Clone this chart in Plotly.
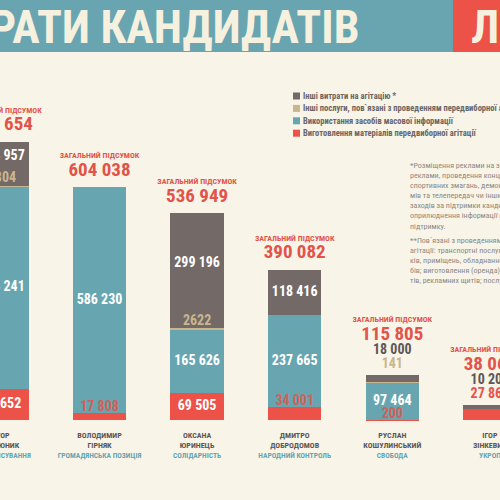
import plotly.graph_objects as go

# candidates (left to right), the picture is cropped on both sides
first_names = ["ІГОР", "ВОЛОДИМИР", "ОКСАНА", "ДМИТРО", "РУСЛАН", "ІГОР"]
last_names = ["ВАСЮНИК", "ГІРНЯК", "ЮРИНЕЦЬ", "ДОБРОДОМОВ", "КОШУЛИНСЬКИЙ", "ЗІНКЕВИЧ"]
parties = ["САМОВИСУВАННЯ", "ГРОМАДЯНСЬКА ПОЗИЦІЯ", "СОЛІДАРНІСТЬ",
           "НАРОДНИЙ КОНТРОЛЬ", "СВОБОДА", "УКРОП"]

# spending, UAH
red_vals = [80652, 17808, 69505, 34001, 200, 27866]        # виготовлення матеріалів
teal_vals = [524241, 586230, 165626, 237665, 97464, 0]     # засоби масової інформації
beige_vals = [1804, 0, 2622, 0, 141, 0]                    # інші послуги
grey_vals = [114957, 0, 299196, 118416, 18000, 10200]      # інші витрати

legend_labels = [
    "Інші витрати на агітацію *",
    "Інші послуги, пов`язані з проведенням передвиборної агітації **",
    "Використання засобів масової інформації",
    "Виготовлення матеріалів передвиборної агітації",
]

note_lines_1 = [
    "*Розміщення реклами на зовнішніх носіях",
    "реклами, проведення концертів,",
    "спортивних змагань, демонстрування філь-",
    "мів та телепередач чи інших публічних",
    "заходів за підтримки кандидата,",
    "оприлюднення інформації на його",
    "підтримку.",
]
note_lines_2 = [
    "**Пов`язані з проведенням передвиборної",
    "агітації: транспортні послуги, оренда будин-",
    "ків, приміщень, обладнання для проведення захо-",
    "бів; виготовлення (оренда) наметів, стендів, намет-",
    "тів, рекламних щитів; послуги зв'язку",
]

GREY = "#736967"
BEIGE = "#c9b68f"
TEAL = "#67a6b1"
RED = "#ec5248"
BG = "#f8f4e8"
FONT = "Roboto Condensed, Open Sans Condensed, DejaVu Sans Condensed"

Y_TOP = 1089000
Y_BOT = -207000
U = (Y_TOP - Y_BOT) / 500.0   # value units per pixel

x = list(range(len(last_names)))
totals = [r + t + b + g for r, t, b, g in zip(red_vals, teal_vals, beige_vals, grey_vals)]


def fmt(v):
    if v < 10000:
        return str(v)
    return f"{v:,}".replace(",", " ")


fig = go.Figure()
for vals, col in [(red_vals, RED), (teal_vals, TEAL), (beige_vals, BEIGE), (grey_vals, GREY)]:
    fig.add_trace(go.Bar(x=x, y=vals, marker=dict(color=col, line=dict(width=0)),
                         width=0.548, showlegend=False, hoverinfo="skip"))

# value labels
lx, ly, lt, lc, ls = [], [], [], [], []


def lab(xi, yv, txt, col, size):
    lx.append(xi); ly.append(yv); lt.append(txt); lc.append(col); ls.append(size)


for i in x:
    r, t, b, g = red_vals[i], teal_vals[i], beige_vals[i], grey_vals[i]
    top = totals[i]
    above = []
    g_bottom = r + t
    if (g + b) / U > 30:
        b_y = g_bottom + 8 * U
        if b > 0:
            lab(i, b_y, fmt(b), BEIGE, 14)
            lab(i, (top + b_y) / 2 + 4 * U, fmt(g), "white", 14)
        else:
            lab(i, (top + g_bottom) / 2, fmt(g), "white", 14)
    else:
        if g > 0:
            above.append((fmt(g), "#5e5755"))
        if b > 0:
            above.append((fmt(b), BEIGE))
    if t > 0:
        lab(i, r + t / 2, fmt(t), "white", 14)
    if r / U >= 15:
        lab(i, r / 2, fmt(r), "white", 14)
    elif t / U > 30:
        lab(i, r + 6 * U, fmt(r), "#cf6258", 14)
    else:
        above.append((fmt(r), RED))
    y_cur = top
    for k, (txt, col) in enumerate(reversed(above)):
        y_cur = top + (11 + 13.5 * k) * U
        lab(i, y_cur, txt, col, 14)
    tot_y = y_cur + 16 * U
    lab(i, tot_y, fmt(top), "#e2534a", 19)
    lab(i, tot_y + 15 * U, "ЗАГАЛЬНИЙ ПІДСУМОК", "#e2534a", 8)
    lab(i, -16 * U, first_names[i], "#5b5653", 8)
    lab(i, -25.5 * U, last_names[i], "#5b5653", 8)
    lab(i, -36 * U, parties[i], TEAL, 7.5)

fig.add_trace(go.Scatter(x=lx, y=ly, text=lt, mode="text", showlegend=False,
                         hoverinfo="skip", cliponaxis=True,
                         textfont=dict(color=lc, size=ls, family=FONT, weight="bold")))

# banner
fig.add_shape(type="rect", xref="paper", yref="paper", x0=0, x1=453 / 500,
              y0=1 - 52 / 500, y1=1, fillcolor="#68a5b1", line_width=0)
fig.add_shape(type="rect", xref="paper", yref="paper", x0=453 / 500, x1=1,
              y0=1 - 52 / 500, y1=1, fillcolor="#ec5248", line_width=0)
fig.add_annotation(xref="paper", yref="paper", x=362 / 500, y=1 - 27 / 500,
                   xanchor="right", yanchor="middle", showarrow=False,
                   text="ВИТРАТИ КАНДИДАТІВ",
                   font=dict(family=FONT, size=46, color="#f6f0de", weight="bold"))
fig.add_annotation(xref="paper", yref="paper", x=469 / 500, y=1 - 27 / 500,
                   xanchor="left", yanchor="middle", showarrow=False,
                   text="ЛЬВІВ",
                   font=dict(family=FONT, size=46, color="#f6f0de", weight="bold"))

# legend
for k, (name, col) in enumerate(zip(legend_labels, [GREY, BEIGE, TEAL, RED])):
    yc = 96 + 12.4 * k
    fig.add_shape(type="rect", xref="paper", yref="paper", x0=293 / 500, x1=300 / 500,
                  y0=1 - (yc + 3.5) / 500, y1=1 - (yc - 3.5) / 500,
                  fillcolor=col, line_width=0)
    fig.add_annotation(xref="paper", yref="paper", x=301 / 500, y=1 - yc / 500,
                       xanchor="left", yanchor="middle", showarrow=False, text=name,
                       font=dict(family=FONT, size=8.5, color="#6b6663", weight="bold"))

# footnotes
for k, line in enumerate(note_lines_1):
    fig.add_annotation(xref="paper", yref="paper", x=408 / 500, y=1 - (165 + 10.2 * k) / 500,
                       xanchor="left", yanchor="middle", showarrow=False, text=line,
                       font=dict(family=FONT, size=8, color="#8e8a83"))
for k, line in enumerate(note_lines_2):
    fig.add_annotation(xref="paper", yref="paper", x=408 / 500, y=1 - (240 + 10.2 * k) / 500,
                       xanchor="left", yanchor="middle", showarrow=False, text=line,
                       font=dict(family=FONT, size=8, color="#8e8a83"))

fig.update_layout(
    width=500, height=500, margin=dict(l=0, r=0, t=0, b=0),
    paper_bgcolor=BG, plot_bgcolor=BG, barmode="stack", bargap=0,
    xaxis=dict(range=[-0.0195, 5.1035], visible=False, fixedrange=True),
    yaxis=dict(range=[Y_BOT, Y_TOP], visible=False, fixedrange=True),
)
fig.write_html("out.html", config={"displayModeBar": False},
               post_script="document.body.style.margin='0';")
